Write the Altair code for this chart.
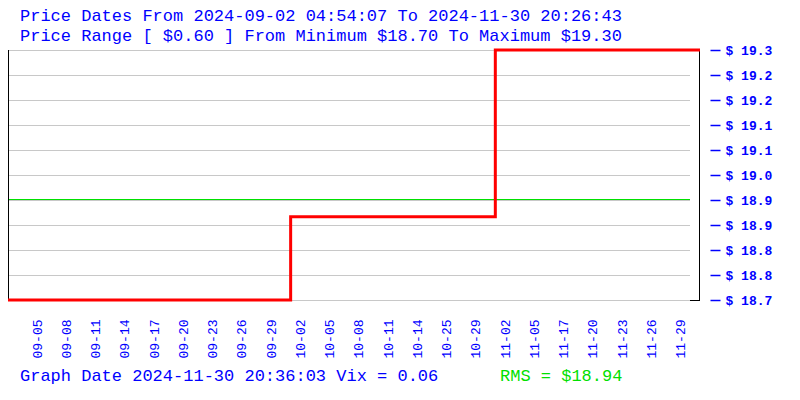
import altair as alt
import pandas as pd

# ---- data ----
label_dates = ["09-05", "09-08", "09-11", "09-14", "09-17", "09-20", "09-23",
               "09-26", "09-29", "10-02", "10-05", "10-08", "10-11", "10-14",
               "10-25", "10-29", "11-02", "11-05", "11-17", "11-20", "11-23",
               "11-26", "11-29"]
label_index = [3, 6, 9, 12, 15, 18, 21, 24, 27, 30, 33, 36, 39, 42, 45, 48,
               51, 54, 57, 60, 63, 66, 69]
step_index = [0, 29, 50, 71]
step_price = [18.70, 18.90, 19.30, 19.30]
y_ticks = [18.70, 18.76, 18.82, 18.88, 18.94, 19.00, 19.06, 19.12, 19.18, 19.24, 19.30]
rms_value = 18.94
title_lines = ["Price Dates From 2024-09-02 04:54:07 To 2024-11-30 20:26:43",
               "Price Range [ $0.60 ] From Minimum $18.70 To Maximum $19.30"]
footer_text = "Graph Date 2024-11-30 20:36:03 Vix = 0.06"
rms_text = "RMS = $18.94"

FONT = "Liberation Mono"
BLUE = "#0000ff"
GREEN = "#00e000"
W, H = 692, 250

line_df = pd.DataFrame({"idx": step_index, "price": step_price})
grid_df = pd.DataFrame({"price": y_ticks})
rms_df = pd.DataFrame({"price": [rms_value]})

lookup = "[" + ",".join("'" + d + "'" for d in label_dates) + "]"

x_enc = alt.X("idx:Q",
              scale=alt.Scale(domain=[0, 71], nice=False, zero=False),
              axis=alt.Axis(values=label_index,
                            labelExpr=lookup + "[round(datum.value / 3) - 1]",
                            labelAngle=270, labelFont=FONT, labelFontSize=13,
                            labelColor=BLUE, ticks=False, domain=False, grid=False,
                            labelPadding=19, labelOverlap=False, labelFlush=False,
                            title=None))
y_enc = alt.Y("price:Q",
              scale=alt.Scale(domain=[18.70, 19.30], nice=False, zero=False),
              axis=alt.Axis(orient="right", values=y_ticks,
                            labelExpr="'$ ' + format(datum.value, '.1f')",
                            offset=10, domain=False, tickSize=10, tickColor=BLUE,
                            tickWidth=1.5, labelPadding=5, labelFont=FONT,
                            labelFontSize=13, labelFontWeight="bold",
                            labelColor=BLUE, grid=False, labelOverlap=False,
                            labelFlush=False, title=None))

grid = alt.Chart(grid_df).mark_rule(color="#c8c8c8", strokeWidth=1, yOffset=0.5).encode(
    y=y_enc, x=alt.value(0), x2=alt.value(682))
rms_line = alt.Chart(rms_df).mark_rule(color=GREEN, strokeWidth=1, yOffset=-0.5).encode(
    y=y_enc, x=alt.value(0), x2=alt.value(682))
left_frame = alt.Chart(grid_df.head(1)).mark_rule(color="black", strokeWidth=1).encode(
    x=alt.value(0.5), y=alt.value(0), y2=alt.value(H))
right_frame = alt.Chart(grid_df.head(1)).mark_rule(color="black", strokeWidth=1).encode(
    x=alt.value(W - 0.5), y=alt.value(0), y2=alt.value(H))
right_foot = alt.Chart(grid_df.head(1)).mark_rule(color="black", strokeWidth=1).encode(
    x=alt.value(W - 10), x2=alt.value(W), y=alt.value(H + 0.5))

price_line = alt.Chart(line_df).mark_line(color="#ff0000", strokeWidth=3,
                                          interpolate="step-after").encode(
    x=x_enc, y=y_enc)

text_df = pd.DataFrame({"t": [title_lines[0], title_lines[1], footer_text, rms_text],
                        "k": ["t1", "t2", "f", "r"]})

def txt(k, x, y, color):
    return alt.Chart(text_df).transform_filter(alt.datum.k == k).mark_text(
        font=FONT, fontSize=17, color=color, align="left", baseline="alphabetic"
    ).encode(text="t:N", x=alt.value(x), y=alt.value(y))

chart = alt.layer(
    grid, rms_line, left_frame, right_frame, right_foot, price_line,
    txt("t1", 12, -29, BLUE), txt("t2", 12, -9, BLUE),
    txt("f", 12, 331, BLUE), txt("r", 492, 331, GREEN),
).properties(
    width=W, height=H,
    autosize=alt.AutoSizeParams(type="none"),
    padding={"left": 0, "top": 42, "right": 92, "bottom": 92},
    background="white",
).configure_view(stroke=None)

chart.save("out.html", embed_options={"renderer": "svg", "actions": False})
